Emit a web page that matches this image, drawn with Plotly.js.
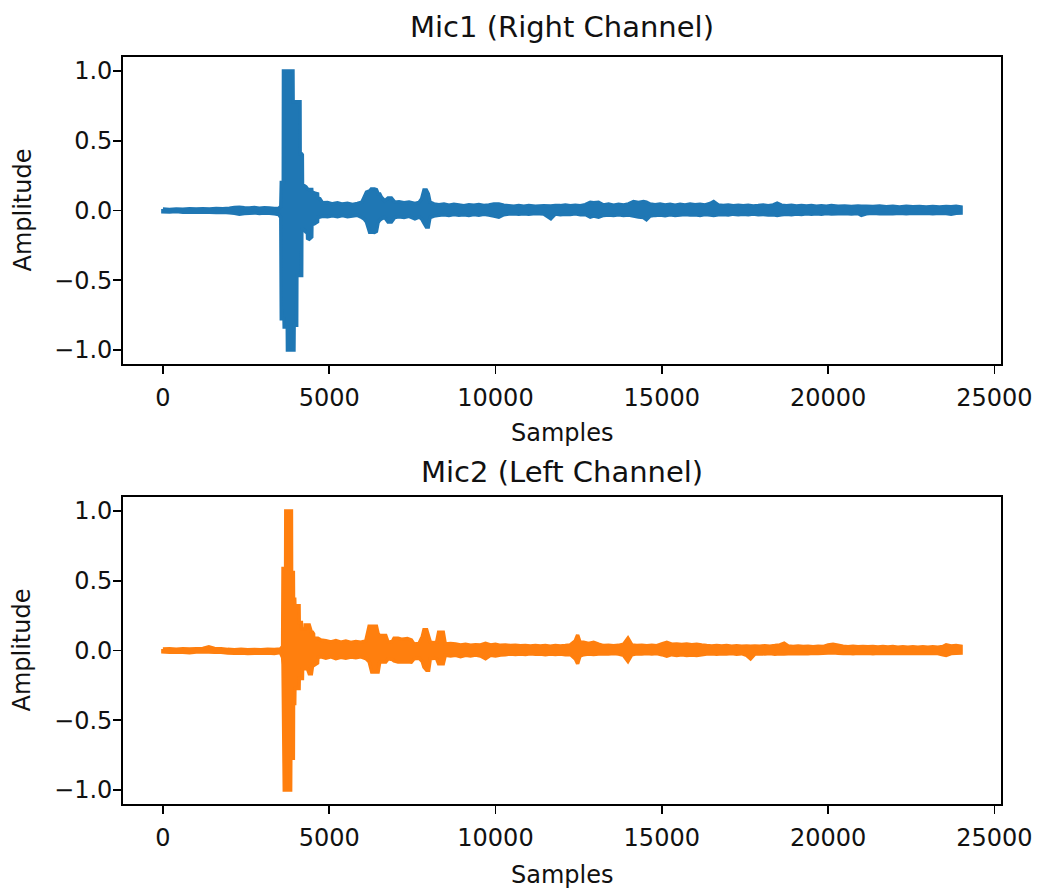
<!DOCTYPE html>
<html>
<head>
<meta charset="utf-8">
<script src="https://cdn.plot.ly/plotly-3.0.1.min.js"></script>
<style>html,body{margin:0;padding:0;background:#fff;}#chart{width:1037px;height:890px;}</style>
</head>
<body>
<div id="chart"></div>
<script>
// Mic1 (Right Channel): sample index, upper envelope, lower envelope
var mic1_x = [0,200,400,600,800,1000,1200,1400,1600,1800,2000,2150,2300,2450,2600,2750,2900,3050,3200,3350,3480,
3545,3560,3620,3625,3642,3647,3740,3745,3910,3915,3940,3945,4022,4027,4122,4127,4172,4177,4192,4197,4250,4300,4345,4350,4400,4475,4480,4550,4650,4655,4720,4800,
4950,5100,5250,5400,5550,5700,5850,5980,6050,6120,6215,6265,6360,6420,6470,6520,6570,6670,6770,6870,6970,7100,7250,7400,7577,7700,7780,7850,7920,7980,8031,
8150,8300,8450,8600,8750,8900,9050,9200,9350,9500,9650,9800,9950,10100,10250,10400,10550,10700,10850,11000,11200,11450,11663,11800,11950,12100,12250,12400,12550,12700,12850,12950,13100,13250,13400,13550,13700,13850,14000,14150,14300,14450,14540,14650,14800,14950,15100,15250,15400,15550,15700,15850,16000,16150,16300,16450,16560,16700,16850,17000,17150,17300,17450,17600,17750,17900,18050,18200,18350,18470,18600,18750,18900,19050,19200,19350,19500,19650,19800,19950,20100,20300,20500,20700,20900,21000,21150,21350,21550,21750,21950,22150,22350,22550,22750,22950,23150,23350,23550,23700,23850,23999];
var mic1_top = [0.010,0.008,0.011,0.009,0.012,0.010,0.013,0.011,0.014,0.012,0.016,0.021,0.024,0.020,0.018,0.021,0.017,0.020,0.018,0.015,0.014,
0.03,0.20,0.20,1.0,1.0,1.0,1.0,1.0,1.0,0.78,0.78,0.78,0.78,0.78,0.78,0.405,0.405,0.405,0.40,0.19,0.178,0.17,0.155,0.155,0.15,0.15,0.135,0.125,0.119,0.09,0.085,0.055,
0.058,0.048,0.055,0.046,0.052,0.044,0.050,0.060,0.095,0.131,0.140,0.155,0.155,0.150,0.120,0.119,0.095,0.070,0.090,0.090,0.060,0.062,0.056,0.060,0.050,0.058,0.085,0.147,0.147,0.120,0.060,
0.047,0.042,0.047,0.038,0.045,0.040,0.035,0.042,0.037,0.043,0.036,0.040,0.047,0.047,0.038,0.035,0.030,0.036,0.031,0.035,0.030,0.034,0.032,0.036,0.035,0.040,0.034,0.038,0.035,0.042,0.059,0.055,0.059,0.040,0.047,0.038,0.045,0.040,0.047,0.064,0.058,0.064,0.060,0.047,0.042,0.047,0.040,0.045,0.038,0.044,0.040,0.047,0.041,0.045,0.040,0.050,0.064,0.040,0.036,0.040,0.035,0.038,0.034,0.038,0.033,0.036,0.040,0.035,0.040,0.052,0.038,0.035,0.038,0.033,0.036,0.032,0.035,0.030,0.034,0.031,0.035,0.030,0.033,0.028,0.032,0.030,0.031,0.028,0.032,0.027,0.030,0.026,0.030,0.027,0.029,0.025,0.028,0.026,0.029,0.027,0.030,0.025];
var mic1_bot = [-0.009,-0.011,-0.008,-0.012,-0.010,-0.013,-0.011,-0.012,-0.014,-0.013,-0.016,-0.020,-0.026,-0.022,-0.019,-0.017,-0.021,-0.018,-0.020,-0.024,-0.028,
-0.05,-0.775,-0.775,-0.775,-0.775,-0.835,-0.835,-1.0,-1.0,-1.0,-1.0,-0.823,-0.823,-0.465,-0.465,-0.465,-0.465,-0.13,-0.13,-0.13,-0.14,-0.155,-0.16,-0.20,-0.205,-0.19,-0.10,-0.095,-0.08,-0.05,-0.047,-0.042,
-0.045,-0.038,-0.044,-0.036,-0.045,-0.040,-0.035,-0.050,-0.060,-0.083,-0.155,-0.155,-0.158,-0.150,-0.085,-0.070,-0.060,-0.050,-0.083,-0.083,-0.050,-0.045,-0.050,-0.042,-0.059,-0.047,-0.060,-0.090,-0.119,-0.119,-0.050,
-0.040,-0.035,-0.030,-0.035,-0.028,-0.034,-0.030,-0.035,-0.028,-0.033,-0.027,-0.032,-0.040,-0.047,-0.030,-0.025,-0.023,-0.026,-0.023,-0.027,-0.022,-0.025,-0.059,-0.025,-0.030,-0.026,-0.029,-0.023,-0.030,-0.028,-0.047,-0.040,-0.047,-0.035,-0.032,-0.035,-0.030,-0.035,-0.033,-0.040,-0.047,-0.050,-0.066,-0.040,-0.035,-0.032,-0.037,-0.030,-0.035,-0.032,-0.028,-0.033,-0.030,-0.035,-0.029,-0.033,-0.035,-0.030,-0.028,-0.032,-0.026,-0.030,-0.027,-0.030,-0.025,-0.030,-0.028,-0.032,-0.030,-0.035,-0.030,-0.026,-0.030,-0.025,-0.028,-0.024,-0.027,-0.023,-0.026,-0.022,-0.025,-0.024,-0.022,-0.025,-0.021,-0.035,-0.023,-0.020,-0.024,-0.021,-0.023,-0.020,-0.024,-0.020,-0.022,-0.019,-0.023,-0.020,-0.022,-0.027,-0.020,-0.018];

// Mic2 (Left Channel)
var mic2_x = [0,200,400,600,800,1000,1200,1380,1550,1750,1950,2150,2350,2550,2750,2950,3150,3350,3530,
3600,3612,3650,3690,3695,3840,3845,3864,3869,3922,3927,3963,3968,4094,4099,4164,4169,4195,4200,4275,4280,4345,4400,4465,4500,4530,4535,4650,4660,4752,
4900,5050,5200,5350,5500,5650,5800,5950,6100,6200,6280,6420,6470,6520,6700,6770,6900,6950,7070,7200,7350,7470,7550,7700,7800,7850,7930,7990,8040,8150,8230,8290,8430,8490,
8650,8800,8950,9100,9250,9400,9550,9700,9850,10000,10150,10300,10450,10600,10750,10900,11050,11200,11350,11500,11650,11800,11950,12100,12250,12400,12470,12540,12650,12800,12950,13100,13250,13400,13550,13700,13850,13983,14100,14250,14400,14550,14700,14850,15000,15150,15300,15450,15600,15750,15900,16050,16200,16350,16500,16650,16800,16950,17100,17250,17400,17550,17670,17800,17950,18100,18250,18400,18550,18680,18800,18950,19100,19250,19400,19550,19700,19850,20000,20150,20300,20450,20600,20750,20900,21050,21200,21350,21500,21650,21800,21950,22100,22250,22400,22550,22700,22850,23000,23150,23300,23450,23550,23700,23850,23999];
var mic2_top = [0.010,0.012,0.009,0.012,0.010,0.013,0.015,0.026,0.014,0.012,0.008,0.006,0.008,0.005,0.007,0.006,0.008,0.007,0.010,
0.03,0.588,0.588,0.588,1.0,1.0,1.0,1.0,0.559,0.559,0.368,0.368,0.321,0.321,0.20,0.20,0.154,0.154,0.154,0.154,0.183,0.183,0.183,0.13,0.13,0.12,0.0875,0.0875,0.0875,0.075,
0.070,0.062,0.071,0.060,0.068,0.058,0.065,0.060,0.068,0.173,0.173,0.173,0.12,0.107,0.107,0.060,0.065,0.088,0.088,0.080,0.085,0.075,0.047,0.050,0.10,0.149,0.149,0.10,0.060,0.055,0.060,0.13,0.13,0.047,
0.050,0.047,0.040,0.045,0.038,0.042,0.040,0.052,0.040,0.045,0.037,0.040,0.035,0.038,0.034,0.036,0.033,0.036,0.032,0.035,0.031,0.036,0.032,0.035,0.040,0.070,0.111,0.060,0.059,0.050,0.059,0.045,0.035,0.038,0.034,0.037,0.045,0.0875,0.040,0.036,0.038,0.034,0.037,0.034,0.047,0.059,0.045,0.047,0.043,0.047,0.042,0.045,0.040,0.036,0.033,0.036,0.032,0.035,0.031,0.034,0.030,0.033,0.030,0.033,0.030,0.034,0.031,0.035,0.040,0.052,0.032,0.029,0.032,0.028,0.031,0.027,0.030,0.028,0.040,0.045,0.038,0.030,0.027,0.030,0.026,0.029,0.026,0.029,0.025,0.028,0.025,0.028,0.024,0.027,0.024,0.027,0.024,0.026,0.023,0.026,0.024,0.028,0.040,0.032,0.035,0.030];
var mic2_bot = [-0.009,-0.012,-0.010,-0.013,-0.016,-0.011,-0.010,-0.010,-0.012,-0.013,-0.018,-0.020,-0.018,-0.021,-0.019,-0.020,-0.018,-0.021,-0.015,
-0.05,-0.10,-1.0,-1.0,-1.0,-1.0,-0.773,-0.773,-0.773,-0.773,-0.38,-0.38,-0.273,-0.273,-0.20,-0.20,-0.20,-0.20,-0.13,-0.13,-0.13,-0.13,-0.166,-0.166,-0.107,-0.107,-0.107,-0.09,-0.05,-0.045,
-0.055,-0.045,-0.058,-0.048,-0.055,-0.047,-0.052,-0.045,-0.058,-0.080,-0.154,-0.154,-0.154,-0.083,-0.083,-0.060,-0.065,-0.075,-0.083,-0.083,-0.080,-0.083,-0.060,-0.055,-0.080,-0.120,-0.142,-0.142,-0.060,-0.055,-0.060,-0.095,-0.095,-0.035,
-0.040,-0.035,-0.045,-0.035,-0.040,-0.033,-0.040,-0.059,-0.035,-0.040,-0.032,-0.030,-0.025,-0.028,-0.025,-0.028,-0.024,-0.027,-0.025,-0.030,-0.026,-0.028,-0.025,-0.030,-0.028,-0.060,-0.095,-0.040,-0.030,-0.025,-0.028,-0.025,-0.023,-0.025,-0.022,-0.025,-0.035,-0.078,-0.030,-0.023,-0.025,-0.022,-0.025,-0.022,-0.030,-0.040,-0.030,-0.035,-0.030,-0.035,-0.032,-0.035,-0.030,-0.025,-0.023,-0.026,-0.023,-0.025,-0.022,-0.026,-0.023,-0.035,-0.059,-0.026,-0.023,-0.025,-0.022,-0.026,-0.024,-0.025,-0.023,-0.021,-0.024,-0.021,-0.023,-0.020,-0.022,-0.020,-0.018,-0.017,-0.019,-0.022,-0.020,-0.023,-0.020,-0.022,-0.019,-0.023,-0.020,-0.022,-0.019,-0.021,-0.019,-0.022,-0.020,-0.021,-0.019,-0.022,-0.019,-0.021,-0.022,-0.030,-0.035,-0.022,-0.020,-0.018];

var x_ticks = [0, 5000, 10000, 15000, 20000, 25000];
var y_ticks = [-1.0, -0.5, 0.0, 0.5, 1.0];
var y_tick_labels = ['\u22121.0', '\u22120.5', '0.0', '0.5', '1.0'];
var titles = ['Mic1 (Right Channel)', 'Mic2 (Left Channel)'];
var x_label = 'Samples';
var y_label = 'Amplitude';

function band(x, top, bot, color, xa, ya) {
  var xs = x.concat(x.slice().reverse());
  var ys = top.concat(bot.slice().reverse());
  xs.push(x[0]); ys.push(top[0]);
  return {x: xs, y: ys, xaxis: xa, yaxis: ya, mode: 'lines', fill: 'toself',
    fillcolor: color, line: {color: color, width: 3.5, simplify: false}, hoverinfo: 'skip', showlegend: false};
}

var FONT = 'DejaVu Sans, sans-serif';
var TXT = '#111111';
function xax(anchor) {
  return {anchor: anchor, domain: [0, 1], range: [-1200, 25200], tickvals: x_ticks,
    ticktext: x_ticks.map(String), ticks: 'outside', ticklen: 8, tickwidth: 1.6, tickcolor: '#000',
    ticklabelstandoff: 3,
    showline: true, mirror: true, linecolor: '#000', linewidth: 1.8, showgrid: false, zeroline: false,
    tickfont: {family: FONT, size: 24, color: TXT}};
}
function yax(anchor, dom) {
  return {anchor: anchor, domain: dom, range: [-1.1, 1.1], tickvals: y_ticks, ticktext: y_tick_labels,
    ticks: 'outside', ticklen: 8, tickwidth: 1.6, tickcolor: '#000',
    ticklabelstandoff: -4,
    showline: true, mirror: true, linecolor: '#000', linewidth: 1.8, showgrid: false, zeroline: false,
    tickfont: {family: FONT, size: 24, color: TXT}};
}

var ann = [];
function txt(t, x, y, size, angle) {
  ann.push({text: t, xref: 'paper', yref: 'paper', x: x, y: y, xanchor: 'center', yanchor: 'middle',
    showarrow: false, textangle: angle || 0, font: {family: FONT, size: size, color: TXT}});
}
txt(titles[0], 0.5, 1.0402, 29);
txt(titles[1], 0.5, 0.445, 29);
txt(x_label, 0.5, 0.4966, 24);
txt(x_label, 0.5, -0.095, 24);
txt(y_label, -0.115, 0.7945, 24, -90);
txt(y_label, -0.115, 0.2055, 24, -90);

var layout = {
  width: 1037, height: 890,
  margin: {l: 123, r: 36, t: 57, b: 86},
  paper_bgcolor: '#fff', plot_bgcolor: '#fff',
  xaxis: xax('y'), yaxis: yax('x', [0.589, 1]),
  xaxis2: xax('y2'), yaxis2: yax('x2', [0, 0.411]),
  annotations: ann, showlegend: false
};

Plotly.newPlot('chart', [
  band(mic1_x, mic1_top, mic1_bot, '#1f77b4', 'x', 'y'),
  band(mic2_x, mic2_top, mic2_bot, '#ff7f0e', 'x2', 'y2')
], layout, {displayModeBar: false, staticPlot: true});
</script>
</body>
</html>
